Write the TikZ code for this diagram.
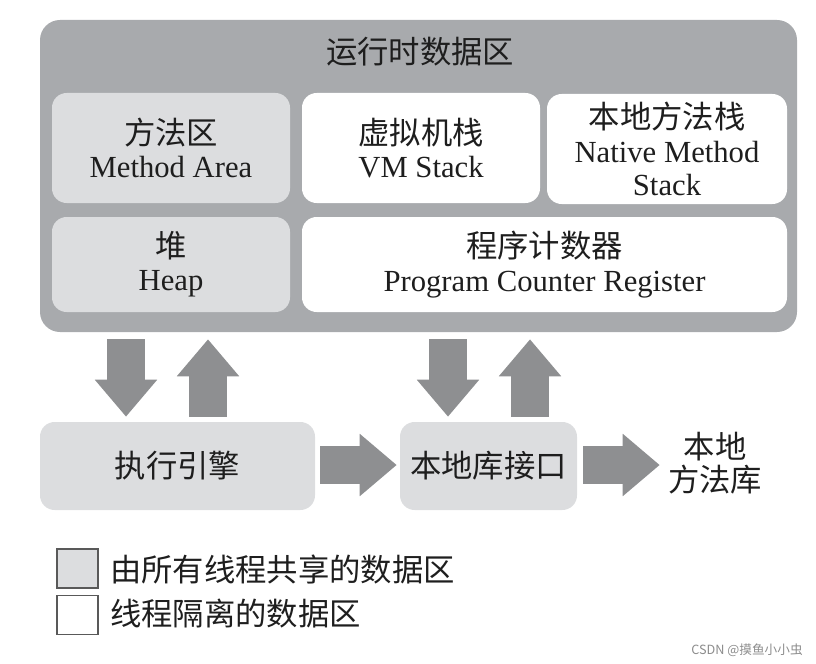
\documentclass[tikz,border=0pt]{standalone}
\usepackage{fontspec}
\setmainfont{Liberation Serif}
\newfontfamily\cjk{Noto Sans CJK SC}
\usetikzlibrary{arrows.meta}
\definecolor{rtgrey}{HTML}{A8AAAD}
\definecolor{sharedgrey}{HTML}{DCDDDF}
\definecolor{arrowgrey}{HTML}{8E8F91}
\definecolor{inkgrey}{HTML}{1E1E1E}
\newcommand{\zhtext}[1]{{\cjk\fontsize{23.5}{25}\selectfont #1}}
\tikzstyle{area}=[rectangle, rounded corners=11pt, inner sep=0pt, align=center, text=inkgrey, font=\fontsize{23}{25}\selectfont]
\tikzstyle{shared}=[area, fill=sharedgrey]
\tikzstyle{private}=[area, fill=white]
\tikzstyle{legendbox}=[rectangle, draw=black!65, line width=1.2pt, inner sep=0pt, minimum width=30.75pt, minimum height=29.25pt]
\tikzstyle{label}=[inner sep=0pt, text=inkgrey, font=\cjk\fontsize{23.5}{25}\selectfont]
\tikzstyle{bigarrow}=[draw=arrowgrey, line width=28.5pt, -{Triangle[length=27.75pt, width=45pt]}]

\begin{document}
\begin{tikzpicture}[x=0.75pt, y=-0.75pt]
	\useasboundingbox (0,0) rectangle (816,663);
	\begin{scope}
		\node (rt) at (418.5,176)[area, fill=rtgrey, rounded corners=15pt, minimum width=567.75pt, minimum height=234pt] {};
		\node (title) at (420,52)[label] {运行时数据区};
		\node (method) at (171,148)[shared, minimum width=178.5pt, minimum height=82.5pt] {\zhtext{方法区}\\Method Area};
		\node (vm) at (421,148)[private, minimum width=178.5pt, minimum height=82.5pt] {\zhtext{虚拟机栈}\\VM Stack};
		\node (native) at (667,149)[private, minimum width=180pt, minimum height=82.5pt] {\zhtext{本地方法栈}\\Native Method\\Stack};
		\node (heap) at (171,264.5)[shared, minimum width=178.5pt, minimum height=71.25pt] {\zhtext{堆}\\Heap};
		\node (pc) at (544.5,264.5)[private, minimum width=363.75pt, minimum height=71.25pt] {\zhtext{程序计数器}\\Program Counter Register};
		\node (exec) at (177.5,466)[shared, minimum width=206.25pt, minimum height=66pt] {\zhtext{执行引擎}};
		\node (jni) at (488.5,466)[shared, minimum width=132.75pt, minimum height=66pt] {\zhtext{本地库接口}};
		\node (lib) at (715,463)[label, align=center] {本地\\方法库};
	\end{scope}
	\begin{scope}
		\node (shared) at (77.5,568.5)[legendbox, fill=sharedgrey] {};
		\node (private) at (77.5,615)[legendbox, fill=white] {};
		\node (sharedtext) at (110,570)[label, anchor=west] {由所有线程共享的数据区};
		\node (privatetext) at (110,614)[label, anchor=west] {线程隔离的数据区};
		\node (mark) at (803,650)[anchor=east, inner sep=0pt, text=black!45, font=\cjk\fontsize{9.5}{10}\selectfont] {CSDN @摸鱼小小虫};
	\end{scope}
	\begin{scope}
		\draw [bigarrow, shorten <=5.25pt, shorten >=3.75pt] (rt.south -| 126,0) -- (exec.north -| 126,0);
		\draw [bigarrow, shorten <=3.75pt, shorten >=5.25pt] (exec.north -| 208,0) -- (rt.south -| 208,0);
		\draw [bigarrow, shorten <=5.25pt, shorten >=3.75pt] (rt.south -| 448,0) -- (jni.north -| 448,0);
		\draw [bigarrow, shorten <=3.75pt, shorten >=5.25pt] (jni.north -| 530,0) -- (rt.south -| 530,0);
		\draw [bigarrow, shorten <=3.75pt, shorten >=2.25pt] (exec.east |- 0,465) -- (jni.west |- 0,465);
		\draw [bigarrow, shorten <=4.5pt, shorten >=6pt] (jni.east |- 0,465) -- (lib.west |- 0,465);
	\end{scope}
\end{tikzpicture}
\end{document}
